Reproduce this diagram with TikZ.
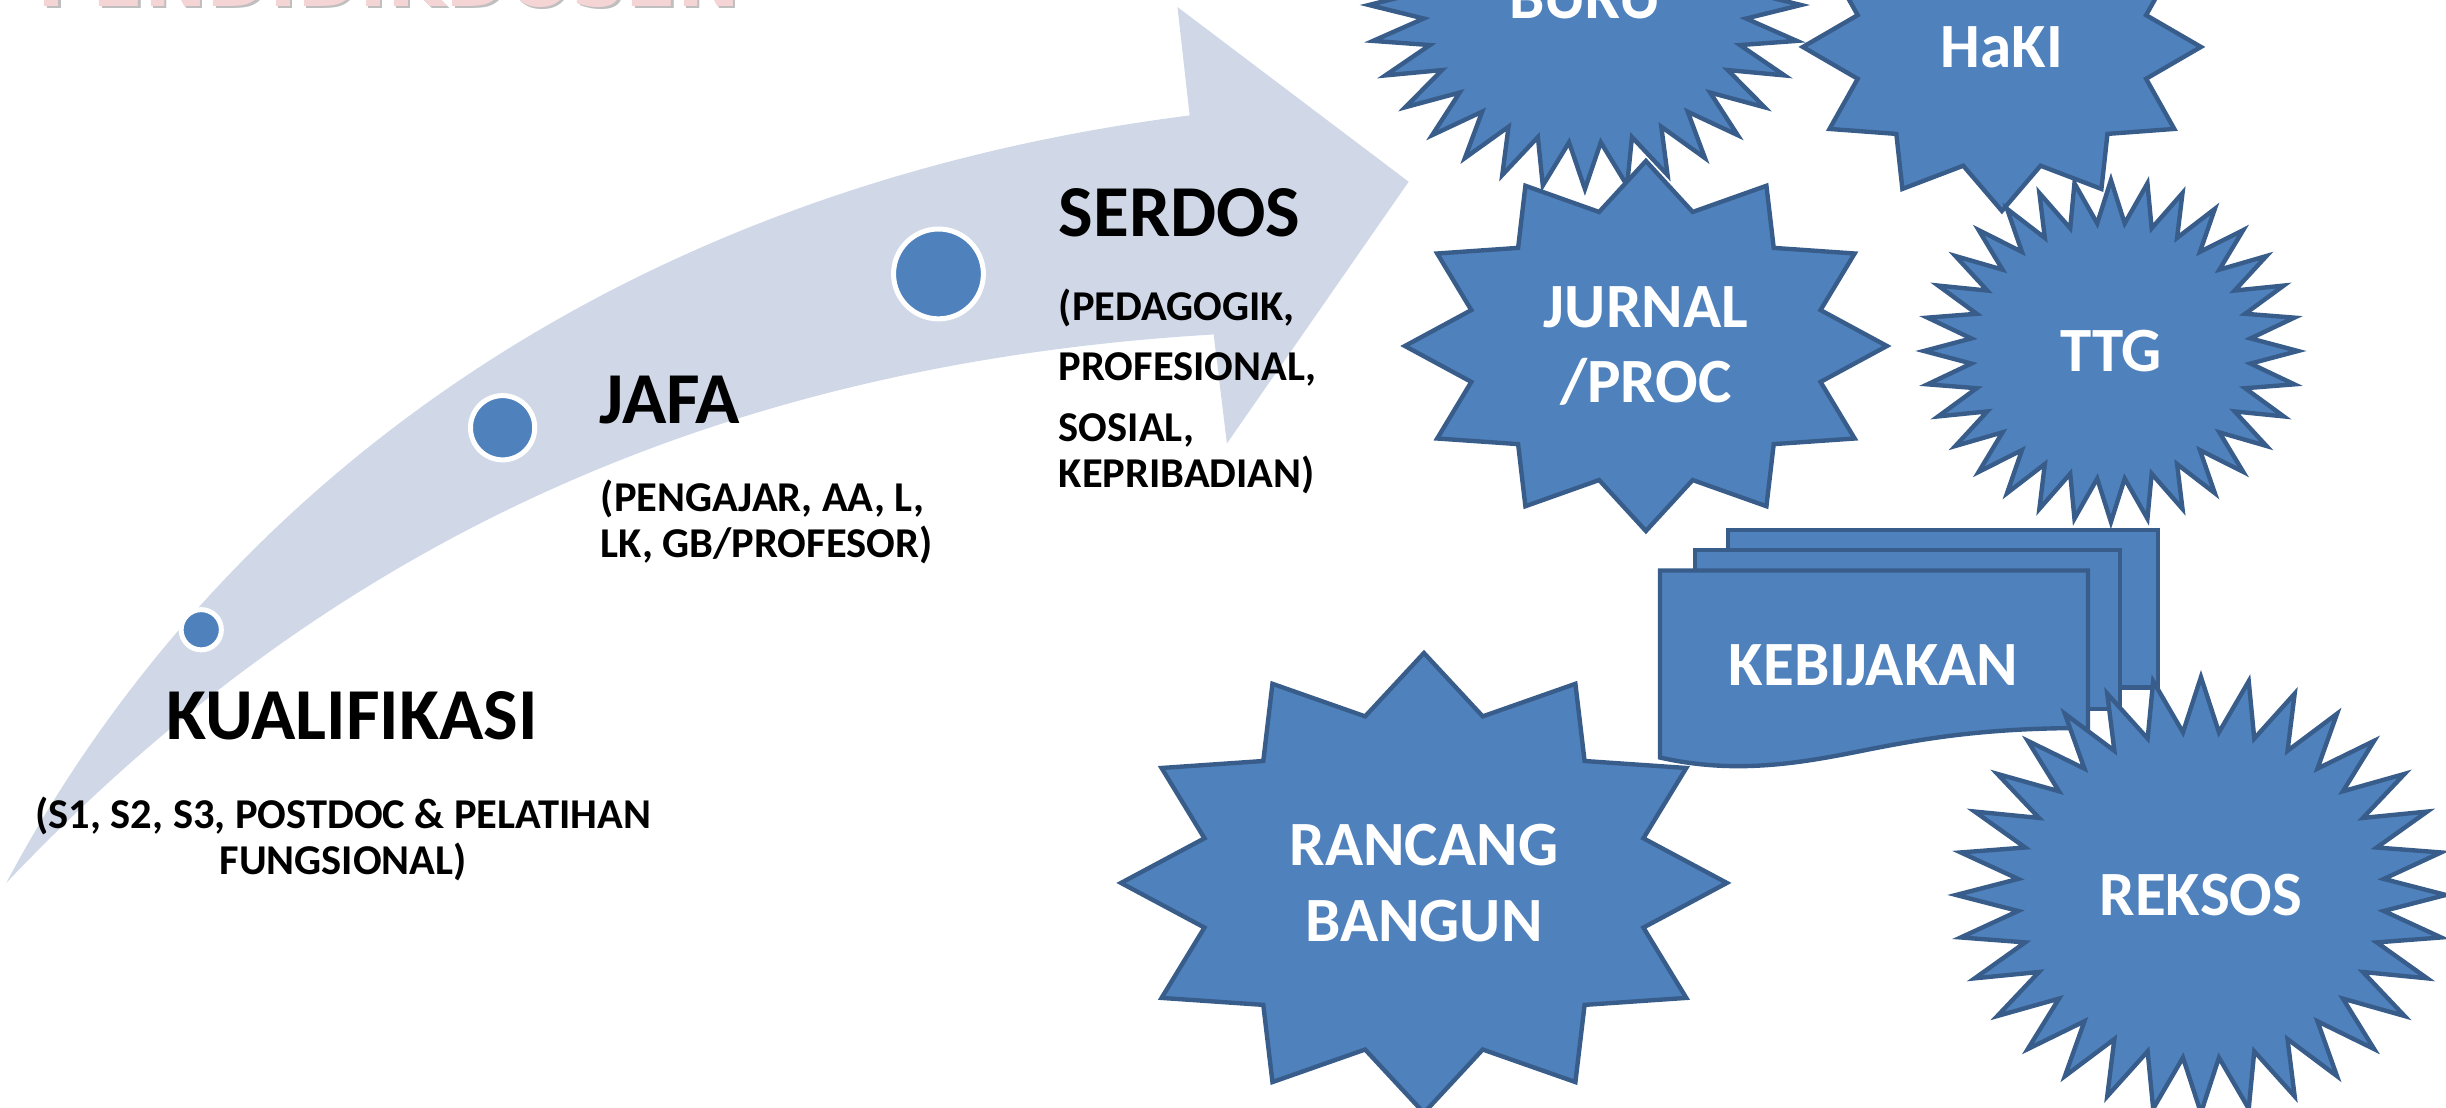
\documentclass[tikz,border=0pt]{standalone}
\usepackage{fontspec}
\setmainfont{Carlito}
\newfontfamily\tandafont{DejaVu Sans}
\usepackage{tikz}
\definecolor{pita}{RGB}{208,216,232}
\definecolor{isi}{RGB}{79,129,189}
\definecolor{garis}{RGB}{56,93,138}
\definecolor{merahmuda}{RGB}{244,212,212}

\begin{document}
\begin{tikzpicture}[x=0.02cm,y=-0.02cm,
	judul/.style={anchor=base west,font=\fontsize{26.7}{32}\selectfont\bfseries},
	ket/.style={anchor=base west,align=left,font=\fontsize{15.5}{16.8}\selectfont\bfseries},
	titik/.style={circle,fill=isi,draw=white,line width=0.064cm,inner sep=0pt},
	bintang/.style={fill=isi,draw=garis,line width=1.6pt,line join=miter},
	tulisan/.style={text=white,align=center,font=\fontsize{23}{27.7}\selectfont\bfseries}]
	\useasboundingbox (0,0) rectangle (1568,710);

	% tanda air, terpotong di tepi atas
	\node[anchor=base west,text=gray!50,font=\tandafont\bfseries\fontsize{27.4}{30}\selectfont] (bayang) at (19.5,5.5) {PENDIDIKDOSEN};
	\node[anchor=base west,text=merahmuda,font=\tandafont\bfseries\fontsize{27.4}{30}\selectfont] (tanda) at (18,4) {PENDIDIKDOSEN};

	% pita panah naik
	\fill[pita] (4,566) .. controls (140,310) and (400,120) .. (762.6,74)
		-- (754.8,4.5) -- (903,116.5) -- (786.5,284.3) -- (778,214.4)
		.. controls (430,235) and (190,370) .. (4,566) -- cycle;

	\node[titik,minimum size=0.516cm] (d1) at (129,403.7) {};
	\node[titik,minimum size=0.824cm] (d2) at (322.2,274.2) {};
	\node[titik,minimum size=1.152cm] (d3) at (601.6,175.6) {};

	% base = garis dasar baris terakhir
	\node[judul] (kual) at (100.5,474) {KUALIFIKASI};
	\node[ket,align=center,anchor=base] (kualket) at (220,560.3) {(S1, S2, S3, POSTDOC \& PELATIHAN\\FUNGSIONAL)};
	\node[judul] (jafa) at (378,271.5) {JAFA};
	\node[ket] (jafaket) at (379,357.5) {(PENGAJAR, AA, L,\\LK, GB/PROFESOR)};
	\node[judul] (serdos) at (672.5,151.3) {SERDOS};
	\node[ket] (serdosket) at (672.5,312.3) {(PEDAGOGIK,\\[0.186cm]PROFESIONAL,\\[0.186cm]SOSIAL,\\KEPRIBADIAN)};

	% bintang: pusat, jari-jari x dan y, jumlah sudut
	\foreach \cx/\cy/\rx/\ry/\n in {1016/3.2/138.5/118/32, 1055.1/221.8/154.5/118.6/12,
		1283.3/30.1/127.6/105.1/12, 1353.2/225/119.9/109.6/32}{
		\pgfmathtruncatemacro\m{2*\n-1}
		\draw[bintang] plot[samples at={0,...,\m}]
			({\cx+\rx*(1-0.25*mod(\x,2))*cos(\x*180/\n)},{\cy+\ry*(1-0.25*mod(\x,2))*sin(\x*180/\n)}) -- cycle;
	}
	\node[tulisan] (buku) at (1016,-1) {BUKU};
	\node[tulisan] (jurnal) at (1055.1,221.8) {JURNAL\\/PROC};
	\node[tulisan] (haki) at (1283.3,30.1) {HaKI};
	\node[tulisan] (ttg) at (1353.2,225) {TTG};

	% tumpukan dokumen
	\draw[bintang] (1107.7,339.7) rectangle (1383.3,440.8);
	\draw[bintang] (1086.5,352.6) rectangle (1359,454.5);
	\draw[bintang] (1064.1,365.7) -- (1338.5,365.7) -- (1338.5,466.7)
		.. controls (1270,466.5) and (1230,474) .. (1190,482)
		.. controls (1150,490) and (1110,496) .. (1064.1,485.6) -- cycle;
	\node[tulisan] (kebijakan) at (1201,426.7) {KEBIJAKAN};

	\foreach \cx/\cy/\rx/\ry/\n in {912.8/566/194.2/147.4/12, 1410.9/573.7/157/139.7/32}{
		\pgfmathtruncatemacro\m{2*\n-1}
		\draw[bintang] plot[samples at={0,...,\m}]
			({\cx+\rx*(1-0.25*mod(\x,2))*cos(\x*180/\n)},{\cy+\ry*(1-0.25*mod(\x,2))*sin(\x*180/\n)}) -- cycle;
	}
	\node[tulisan] (rancang) at (912.8,566) {RANCANG\\BANGUN};
	\node[tulisan] (reksos) at (1410.9,573.7) {REKSOS};
\end{tikzpicture}
\end{document}
